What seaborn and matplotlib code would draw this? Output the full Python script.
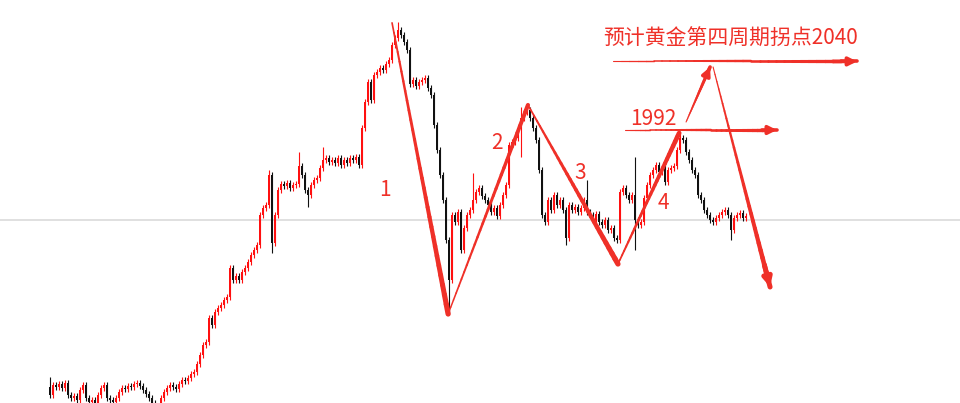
import numpy as np
import matplotlib
matplotlib.use('Agg')
import matplotlib.pyplot as plt
import seaborn as sns
from matplotlib.collections import LineCollection

# closes (price), open = previous close
first_open = 1812.0
close = [
    1806.5, 1813.5, 1812.1, 1814.2, 1811.4, 1814.9, 1806.5, 1804.4, 1805.8, 1803.0,
    1810.0, 1813.5, 1804.4, 1801.6, 1803.0, 1800.2, 1806.5, 1811.4, 1813.5, 1804.4,
    1803.0, 1801.6, 1804.4, 1808.6, 1811.4, 1810.7, 1812.8, 1812.1, 1814.2, 1814.9,
    1812.8, 1810.0, 1807.2, 1804.4, 1800.9, 1796.0, 1798.8, 1804.4, 1808.6, 1811.4,
    1813.5, 1812.1, 1810.7, 1814.2, 1817.0, 1816.3, 1818.4, 1821.2, 1822.6, 1828.2,
    1834.5, 1841.5, 1843.6, 1860.4, 1855.5, 1864.6, 1867.4, 1869.5, 1873.0, 1875.1,
    1895.4, 1887.0, 1889.8, 1887.0, 1892.6, 1895.4, 1899.6, 1904.5, 1908.0, 1911.5,
    1932.5, 1937.4, 1939.5, 1960.5, 1912.9, 1932.5, 1950.0, 1954.2, 1952.8, 1954.9,
    1951.4, 1953.5, 1954.2, 1966.8, 1960.5, 1950.0, 1946.5, 1953.5, 1957.0, 1958.4,
    1965.4, 1971.0, 1972.4, 1969.6, 1971.0, 1968.9, 1972.4, 1967.5, 1971.0, 1968.9,
    1972.4, 1971.0, 1973.1, 1967.5, 1993.4, 2011.6, 2025.6, 2013.0, 2030.5, 2032.6,
    2035.4, 2034.0, 2038.2, 2041.0, 2051.5, 2056.4, 2062.0, 2058.5, 2053.6, 2048.0,
    2024.2, 2027.0, 2022.8, 2025.6, 2027.0, 2028.4, 2021.4, 2016.5, 1995.5, 1978.0,
    1960.5, 1943.0, 1915.0, 1887.0, 1932.5, 1927.6, 1934.6, 1908.0, 1923.4, 1932.5,
    1936.0, 1943.0, 1948.6, 1951.4, 1945.8, 1943.0, 1939.5, 1934.6, 1937.4, 1931.8,
    1939.5, 1946.5, 1953.5, 1981.5, 1983.6, 1986.4, 1993.4, 2000.4, 2004.6, 2006.0,
    2000.4, 1993.4, 1985.0, 1964.0, 1932.5, 1927.6, 1943.0, 1936.0, 1946.5, 1939.5,
    1943.0, 1936.0, 1916.4, 1939.5, 1936.0, 1938.1, 1934.6, 1937.4, 1943.0, 1934.6,
    1932.5, 1929.0, 1933.2, 1927.6, 1925.5, 1929.0, 1922.0, 1923.4, 1916.4, 1915.0,
    1948.6, 1951.4, 1946.5, 1943.0, 1946.5, 1929.0, 1925.5, 1927.6, 1944.4, 1953.5,
    1960.5, 1964.0, 1967.5, 1962.6, 1965.4, 1955.6, 1964.0, 1965.4, 1966.8, 1978.0,
    1986.4, 1985.0, 1976.6, 1971.0, 1964.0, 1960.5, 1946.5, 1943.0, 1936.0, 1932.5,
    1929.0, 1927.6, 1930.4, 1932.5, 1934.6, 1936.0, 1932.5, 1922.0, 1930.4, 1932.5,
    1933.9, 1930.4, 1931.8,
]
# long wicks: candle index -> price
long_highs = {0: 1819.1, 73: 1964.0, 83: 1976.6, 91: 1980.1, 116: 2067.6,
              141: 1961.9, 157: 2008.1, 179: 1957.0, 195: 1973.1, 210: 1989.9}
long_lows = {74: 1905.9, 86: 1938.1, 133: 1863.9, 157: 1973.0, 172: 1911.5,
             195: 1908.0, 227: 1915.0}

mid_level = 1929.0
wave_x = [114, 132.7, 159.3, 189.3, 209.7]
wave_y = [2067.0, 1863.2, 2009.5, 1898.2, 1989.9]
wave_labels = ['1', '2', '3', '4']
wave_label_xy = [(111.7, 1950.0), (149.0, 1983.0), (176.7, 1961.9), (204.3, 1940.9)]
targets = [1992, 2040]
title_text = '预计黄金第四周期拐点2040'

RED = '#ff1010'
ANN = '#ef3028'

sns.set_theme(style='white')
plt.rcParams['font.family'] = ['Noto Sans CJK SC', 'DejaVu Sans']

close = np.array(close)
opn = np.r_[first_open, close[:-1]]
x = np.arange(len(close))
wick = 1.8
high = np.maximum(opn, close) + wick
low = np.minimum(opn, close) - wick
for k, v in long_highs.items():
    high[k] = v
for k, v in long_lows.items():
    low[k] = v
up = close >= opn
colors = np.where(up, RED, '#111111')

fig = plt.figure(figsize=(9.6, 4.03), dpi=100)
ax = fig.add_axes([0, 0, 1, 1])
ax.set_xlim(-16.67, 303.3)
ax.set_ylim(1800.9, 2083)
ax.axis('off')

ax.axhline(mid_level, color='#dadada', lw=1.2, zorder=0)
ax.vlines(x, low, high, colors=colors, lw=0.8, zorder=2)
ax.bar(x, np.maximum(np.abs(close - opn), 0.7), bottom=np.minimum(opn, close),
       width=0.75, color=colors, linewidth=0, zorder=3)


def stroke(p0, p1, w0, w1, head=False):
    n = 30
    xs = np.linspace(p0[0], p1[0], n + 1)
    ys = np.linspace(p0[1], p1[1], n + 1)
    segs = [[(xs[k], ys[k]), (xs[k + 1], ys[k + 1])] for k in range(n)]
    lc = LineCollection(segs, linewidths=np.linspace(w0, w1, n), colors=ANN,
                        capstyle='round', zorder=5)
    ax.add_collection(lc)
    if head:
        ax.annotate('', xy=p1, xytext=(xs[-4], ys[-4]),
                    arrowprops=dict(arrowstyle='-|>,head_length=0.4,head_width=0.2',
                                    color=ANN, lw=w1, shrinkA=0, shrinkB=0), zorder=5)


widths = [(1.2, 3.8), (1.0, 3.0), (1.2, 3.8), (1.2, 3.4)]
for k in range(4):
    stroke((wave_x[k], wave_y[k]), (wave_x[k + 1], wave_y[k + 1]), *widths[k])

for lab, (lx, ly) in zip(wave_labels, wave_label_xy):
    ax.text(lx, ly, lab, color=ANN, fontsize=15, ha='center', va='center', zorder=6)

# target lines
stroke((191.7, targets[0]), (242.3, targets[0]), 0.8, 2.6, head=True)
stroke((187.7, targets[1]), (269.0, targets[1]), 0.8, 2.6, head=True)
ax.text(193.3, 1999.7, str(targets[0]), color=ANN, fontsize=15, ha='left', va='center')
ax.text(184.3, 2055.5, title_text, color=ANN, fontsize=15, ha='left', va='center')

# projection
stroke((212.0, 1997.6), (220.0, 2036.1), 0.8, 2.6, head=True)
stroke((221.0, 2036.1), (240.0, 1882.1), 0.8, 3.6, head=True)

fig.savefig('out.png', dpi=100)
